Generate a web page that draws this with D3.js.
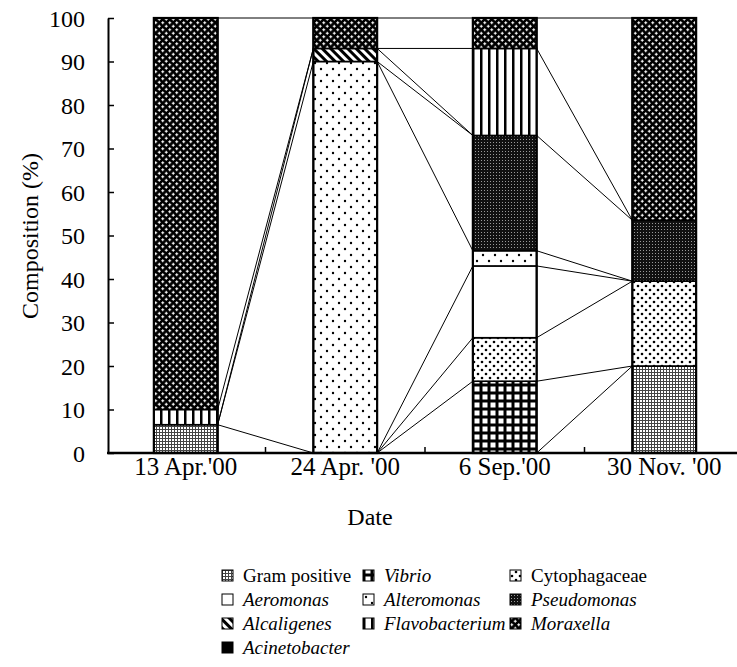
<!DOCTYPE html>
<html>
<head>
<meta charset="utf-8">
<script src="https://cdn.jsdelivr.net/npm/d3@7"></script>
</head>
<body style="margin:0">
<script>
// sampling dates
var dates = ["13 Apr.'00", "24 Apr. '00", "6 Sep.'00", "30 Nov. '00"];

// bacterial groups, bottom to top of each stack
var groups = ["Gram positive", "Vibrio", "Cytophagaceae", "Aeromonas", "Alteromonas",
              "Pseudomonas", "Alcaligenes", "Flavobacterium", "Moraxella", "Acinetobacter"];

// composition (%) per date
var gramPositive   = [6.5, 0, 0, 20];
var vibrio         = [0, 0, 16.5, 0];
var cytophagaceae  = [0, 0, 10, 19.5];
var aeromonas      = [0, 0, 16.5, 0];
var alteromonas    = [0, 90, 3.5, 0];
var pseudomonas    = [0, 0, 26.5, 14];
var alcaligenes    = [0, 3, 0, 0];
var flavobacterium = [3.5, 0, 20, 0];
var moraxella      = [90, 7, 7, 46.5];
var acinetobacter  = [0, 0, 0, 0];

var yTicks = [0, 10, 20, 30, 40, 50, 60, 70, 80, 90, 100];

var series = [gramPositive, vibrio, cytophagaceae, aeromonas, alteromonas,
              pseudomonas, alcaligenes, flavobacterium, moraxella, acinetobacter];
var italic = [false, true, false, true, true, true, true, true, true, true];
var patIds = ["gp", "vib", "cyt", "aer", "alt", "pse", "alc", "fla", "mor", "aci"];

var face = "Liberation Serif";

var rows = dates.map(function(d, i) {
    var r = {date: d};
    groups.forEach(function(g, j) { r[g] = series[j][i]; });
    return r;
});

var w = 737, h = 667;
var svg = d3.select("body").append("svg")
    .attr("width", w)
    .attr("height", h);

// ---- patterns
var defs = svg.append("defs");

function pattern(id, size) {
    return defs.append("pattern")
        .attr("id", id)
        .attr("patternUnits", "userSpaceOnUse")
        .attr("width", size)
        .attr("height", size);
}

var p = pattern("gp", 3);
p.append("rect").attr("width", 3).attr("height", 3).attr("fill", "#444");
p.append("rect").attr("x", 1).attr("y", 1).attr("width", 2).attr("height", 2).attr("fill", "#fff");

p = pattern("vib", 8);
p.append("rect").attr("width", 8).attr("height", 8).attr("fill", "#000");
p.append("rect").attr("x", 2.5).attr("y", 2.5).attr("width", 5).attr("height", 5).attr("fill", "#fff");

p = pattern("cyt", 8);
p.append("rect").attr("width", 8).attr("height", 8).attr("fill", "#fff");
p.append("circle").attr("cx", 2).attr("cy", 2).attr("r", 1.3).attr("fill", "#000");
p.append("circle").attr("cx", 6).attr("cy", 6).attr("r", 1.3).attr("fill", "#000");

p = pattern("aer", 4);
p.append("rect").attr("width", 4).attr("height", 4).attr("fill", "#fff");

p = pattern("alt", 12);
p.append("rect").attr("width", 12).attr("height", 12).attr("fill", "#fff");
p.append("circle").attr("cx", 3).attr("cy", 3).attr("r", 1.2).attr("fill", "#000");
p.append("circle").attr("cx", 9).attr("cy", 9).attr("r", 1.2).attr("fill", "#000");

p = pattern("pse", 3);
p.append("rect").attr("width", 3).attr("height", 3).attr("fill", "#111");
p.append("rect").attr("x", 1).attr("y", 1).attr("width", 1).attr("height", 1).attr("fill", "#999");

p = pattern("alc", 6).attr("patternTransform", "rotate(-45)");
p.append("rect").attr("width", 6).attr("height", 6).attr("fill", "#fff");
p.append("rect").attr("width", 3).attr("height", 6).attr("fill", "#000");

p = pattern("fla", 8);
p.append("rect").attr("width", 8).attr("height", 8).attr("fill", "#fff");
p.append("rect").attr("width", 2.5).attr("height", 8).attr("fill", "#000");

p = pattern("mor", 7);
p.append("rect").attr("width", 7).attr("height", 7).attr("fill", "#000");
[[1.75, 1.75], [5.25, 5.25]].forEach(function(c) {
    p.append("rect").attr("x", c[0] - 1.5).attr("y", c[1] - 0.5).attr("width", 3).attr("height", 1).attr("fill", "#fff");
    p.append("rect").attr("x", c[0] - 0.5).attr("y", c[1] - 1.5).attr("width", 1).attr("height", 3).attr("fill", "#fff");
});

p = pattern("aci", 4);
p.append("rect").attr("width", 4).attr("height", 4).attr("fill", "#000");

// ---- scales
var x = d3.scaleBand()
    .domain(dates)
    .range([106, 744])
    .paddingInner(0.6)
    .paddingOuter(0.3);

var y = d3.scaleLinear()
    .domain([0, 100])
    .range([453, 18]);

var stacked = d3.stack().keys(groups)(rows);

// ---- connecting lines
var seen = {};
for (var i = 0; i < dates.length - 1; i++) {
    stacked.forEach(function(layer) {
        var a = layer[i][1], b = layer[i + 1][1];
        var key = i + ":" + a + ":" + b;
        if (seen[key]) return;
        seen[key] = true;
        svg.append("line")
            .attr("x1", x(dates[i]) + x.bandwidth())
            .attr("y1", y(a))
            .attr("x2", x(dates[i + 1]))
            .attr("y2", y(b))
            .attr("stroke", "#000")
            .attr("stroke-width", 1);
    });
}

// ---- bars
stacked.forEach(function(layer, j) {
    svg.append("g")
        .selectAll("rect")
        .data(layer.filter(function(d) { return d[1] - d[0] > 0; }))
        .enter().append("rect")
        .attr("x", function(d) { return x(d.data.date); })
        .attr("y", function(d) { return y(d[1]); })
        .attr("width", x.bandwidth())
        .attr("height", function(d) { return y(d[0]) - y(d[1]); })
        .attr("fill", "url(#" + patIds[j] + ")")
        .attr("stroke", "#000")
        .attr("stroke-width", 1.6);
});

svg.append("g").selectAll("rect")
    .data(dates)
    .enter().append("rect")
    .attr("x", function(d) { return x(d); })
    .attr("y", y(100))
    .attr("width", x.bandwidth())
    .attr("height", y(0) - y(100))
    .attr("fill", "none")
    .attr("stroke", "#000")
    .attr("stroke-width", 2.2);

// ---- axes
var yAxis = svg.append("g")
    .attr("transform", "translate(108,0)")
    .call(d3.axisLeft(y).tickValues(yTicks).tickSize(-6).tickPadding(23).tickSizeOuter(0));
yAxis.attr("font-family", face).attr("font-size", 24);
yAxis.select(".domain").attr("stroke-width", 2);
yAxis.selectAll(".tick line").attr("stroke-width", 1.5);
yAxis.selectAll("text").attr("dy", "0.34em");

svg.append("line")
    .attr("x1", 107).attr("x2", 737)
    .attr("y1", y(0)).attr("y2", y(0))
    .attr("stroke", "#000").attr("stroke-width", 2.5);

var step = x.step();
svg.append("g").selectAll("line")
    .data(dates.slice(1))
    .enter().append("line")
    .attr("x1", function(d) { return x(d) - (step - x.bandwidth()) / 2; })
    .attr("x2", function(d) { return x(d) - (step - x.bandwidth()) / 2; })
    .attr("y1", y(0))
    .attr("y2", y(0) - 6)
    .attr("stroke", "#000")
    .attr("stroke-width", 1.5);

svg.append("g").selectAll("text")
    .data(dates)
    .enter().append("text")
    .attr("x", function(d) { return x(d) + x.bandwidth() / 2; })
    .attr("y", 475)
    .attr("text-anchor", "middle")
    .attr("font-family", face)
    .attr("font-size", 25)
    .text(function(d) { return d; });

svg.append("text")
    .attr("x", 370)
    .attr("y", 525)
    .attr("text-anchor", "middle")
    .attr("font-family", face)
    .attr("font-size", 24)
    .text("Date");

svg.append("text")
    .attr("transform", "translate(38,236) rotate(-90)")
    .attr("text-anchor", "middle")
    .attr("font-family", face)
    .attr("font-size", 24)
    .text("Composition (%)");

// ---- legend, three columns filled row by row
var colX = [222, 363, 510];
var legend = svg.append("g").selectAll("g")
    .data(groups)
    .enter().append("g")
    .attr("transform", function(d, i) {
        return "translate(" + colX[i % 3] + "," + (582 + Math.floor(i / 3) * 24) + ")";
    });

legend.append("rect")
    .attr("x", 0)
    .attr("y", -12)
    .attr("width", 11)
    .attr("height", 11)
    .attr("fill", function(d, i) { return "url(#" + patIds[i] + ")"; })
    .attr("stroke", "#000")
    .attr("stroke-width", 1);

legend.append("text")
    .attr("x", 21)
    .attr("y", 0)
    .attr("font-family", face)
    .attr("font-size", 19)
    .attr("font-style", function(d, i) { return italic[i] ? "italic" : "normal"; })
    .text(function(d) { return d; });
</script>
</body>
</html>
